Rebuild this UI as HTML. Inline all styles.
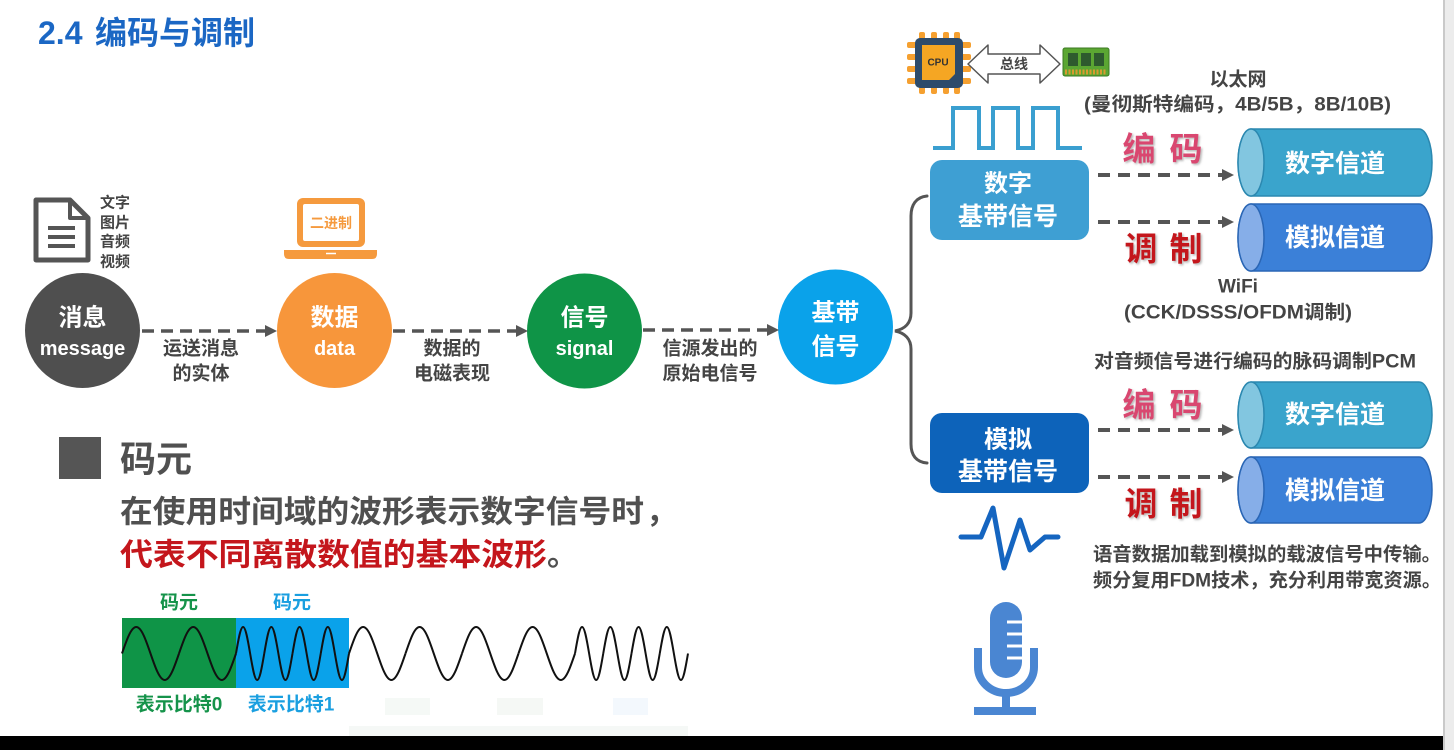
<!DOCTYPE html>
<html><head><meta charset="utf-8"><style>
html,body{margin:0;padding:0;background:#fff;}
body{width:1454px;height:750px;overflow:hidden;}
svg{display:block;}
text{font-family:"Liberation Sans","Noto Sans CJK SC",sans-serif;font-weight:bold;}
</style></head><body>
<svg width="1454" height="750" viewBox="0 0 1454 750" xmlns="http://www.w3.org/2000/svg">
<defs>
<path id="cyc" d="M0,0 C0.0815,-0.5123 0.1595,-1 0.25,-1 C0.3405,-1 0.4185,-0.5123 0.5,0 C0.5815,0.5123 0.6595,1 0.75,1 C0.8405,1 0.9185,0.5123 1,0" fill="none" stroke="#111" stroke-width="2" vector-effect="non-scaling-stroke"/>
<filter id="sh" x="-20%" y="-20%" width="140%" height="140%"><feDropShadow dx="1.5" dy="1.5" stdDeviation="1" flood-color="#888" flood-opacity="0.6"/></filter>
</defs>
<rect x="0" y="0" width="1454" height="750" fill="#fff"/>
<!-- right strip & bottom bar -->
<rect x="1443" y="0" width="11" height="750" fill="#ececec"/>
<rect x="1443" y="0" width="2" height="750" fill="#c9c9c9"/>
<rect x="0" y="736" width="1443" height="14" fill="#000"/>

<!-- title -->
<text x="38" y="33" font-size="32" fill="#1b67c4" dominant-baseline="central">2.4</text>
<text x="95" y="33" font-size="32" fill="#1b67c4" dominant-baseline="central">编码与调制</text>

<!-- document icon -->
<path d="M36,200 L70,200 L88,218 L88,260 L36,260 Z" fill="none" stroke="#555" stroke-width="5" stroke-linejoin="round"/>
<path d="M70,200 L70,218 L88,218" fill="none" stroke="#555" stroke-width="4" stroke-linejoin="round"/>
<line x1="48" y1="228" x2="75" y2="228" stroke="#555" stroke-width="4"/>
<line x1="48" y1="237" x2="75" y2="237" stroke="#555" stroke-width="4"/>
<line x1="48" y1="246" x2="75" y2="246" stroke="#555" stroke-width="4"/>
<g font-size="15" fill="#444" dominant-baseline="central">
<text x="100" y="203">文字</text><text x="100" y="223">图片</text><text x="100" y="242">音频</text><text x="100" y="262">视频</text>
</g>

<!-- laptop -->
<rect x="297" y="198" width="68" height="49" rx="6" fill="#f59a3e"/>
<rect x="303" y="204" width="56" height="37" rx="2" fill="#fff"/>
<text x="331" y="223" font-size="14" fill="#f59a3e" text-anchor="middle" dominant-baseline="central">二进制</text>
<path d="M284,250 L377,250 L377,254 Q377,259 372,259 L289,259 Q284,259 284,254 Z" fill="#f59a3e"/>
<line x1="326" y1="253.5" x2="336" y2="253.5" stroke="#fff" stroke-width="1.5"/>

<!-- circles -->
<circle cx="82.5" cy="330.5" r="57.5" fill="#4f4f4f"/>
<circle cx="334.5" cy="330.5" r="57.5" fill="#f7963b"/>
<circle cx="584.5" cy="331" r="57.5" fill="#0f9447"/>
<circle cx="835.5" cy="327" r="57.5" fill="#0aa2ea"/>
<g fill="#fff" text-anchor="middle" dominant-baseline="central">
<text x="82.5" y="318" font-size="24">消息</text>
<text x="82.5" y="349" font-size="20">message</text>
<text x="334.5" y="318" font-size="24">数据</text>
<text x="334.5" y="349" font-size="20">data</text>
<text x="584.5" y="318" font-size="24">信号</text>
<text x="584.5" y="349" font-size="20">signal</text>
<text x="835.5" y="313" font-size="24">基带</text>
<text x="835.5" y="347" font-size="24">信号</text>
</g>

<!-- left dashed arrows -->
<g stroke="#555" stroke-width="3.5" stroke-dasharray="12 7">
<line x1="142" y1="331" x2="266" y2="331"/>
<line x1="393" y1="331" x2="517" y2="331"/>
<line x1="643" y1="330" x2="768" y2="330"/>
</g>
<g fill="#555">
<polygon points="277,331 265,325 265,337"/>
<polygon points="528,331 516,325 516,337"/>
<polygon points="779,330 767,324 767,336"/>
</g>
<g font-size="19" fill="#444" text-anchor="middle" dominant-baseline="central">
<text x="201" y="349">运送消息</text><text x="201" y="374">的实体</text>
<text x="452" y="349">数据的</text><text x="452" y="374">电磁表现</text>
<text x="710" y="349">信源发出的</text><text x="710" y="374">原始电信号</text>
</g>

<!-- brace -->
<path d="M927,196 C916,197 911,205 911,216 L911,313 C911,323 905,329 895,331 C905,333 911,339 911,349 L911,444 C911,455 916,462 927,463" fill="none" stroke="#555" stroke-width="3" stroke-linecap="round"/>

<!-- CPU icon -->
<g fill="#f5a030">
<rect x="919" y="32" width="6" height="9" rx="2"/><rect x="931" y="32" width="6" height="9" rx="2"/><rect x="943" y="32" width="6" height="9" rx="2"/><rect x="954" y="32" width="6" height="9" rx="2"/>
<rect x="919" y="85" width="6" height="9" rx="2"/><rect x="931" y="85" width="6" height="9" rx="2"/><rect x="943" y="85" width="6" height="9" rx="2"/><rect x="954" y="85" width="6" height="9" rx="2"/>
<rect x="907" y="42" width="10" height="6" rx="2"/><rect x="907" y="54" width="10" height="6" rx="2"/><rect x="907" y="66" width="10" height="6" rx="2"/><rect x="907" y="78" width="10" height="6" rx="2"/>
<rect x="961" y="42" width="10" height="6" rx="2"/><rect x="961" y="54" width="10" height="6" rx="2"/><rect x="961" y="66" width="10" height="6" rx="2"/><rect x="961" y="78" width="10" height="6" rx="2"/>
</g>
<rect x="915" y="38" width="48" height="50" rx="5" fill="#2d4b6b"/>
<path d="M922,45 L955,45 L955,74 L949,80 L922,80 Z" fill="#f5a623"/>
<text x="938" y="63" font-size="10" fill="#333" text-anchor="middle" dominant-baseline="central">CPU</text>
<polygon points="968,64 988,45 988,54 1040,54 1040,45 1060,64 1040,83 1040,74 988,74 988,83" fill="#fff" stroke="#555" stroke-width="1.5" stroke-linejoin="round"/>
<text x="1014" y="64" font-size="14" fill="#444" text-anchor="middle" dominant-baseline="central">总线</text>
<!-- RAM -->
<rect x="1063" y="48" width="46" height="28" rx="2" fill="#5ba632" stroke="#3b7a22" stroke-width="1"/>
<rect x="1068" y="53" width="10" height="13" fill="#2e5a2e"/>
<rect x="1081" y="53" width="10" height="13" fill="#2e5a2e"/>
<rect x="1094" y="53" width="10" height="13" fill="#2e5a2e"/>
<line x1="1065" y1="72" x2="1107" y2="72" stroke="#d89a30" stroke-width="5" stroke-dasharray="2 1.5"/>

<!-- square wave -->
<path d="M933,148 L953,148 L953,108 L979,108 L979,148 L993,148 L993,108 L1018,108 L1018,148 L1033,148 L1033,108 L1058,108 L1058,148 L1082,148" fill="none" stroke="#3a9fd0" stroke-width="4"/>

<!-- boxes -->
<rect x="930" y="160" width="159" height="80" rx="12" fill="#3e9fd3"/>
<rect x="930" y="413" width="159" height="80" rx="12" fill="#0d63ba"/>
<g fill="#fff" text-anchor="middle" dominant-baseline="central">
<text x="1008" y="184" font-size="24">数字</text>
<text x="1008" y="217" font-size="25">基带信号</text>
<text x="1008" y="440" font-size="24">模拟</text>
<text x="1008" y="472" font-size="25">基带信号</text>
</g>

<!-- right dashed arrows -->
<g stroke="#555" stroke-width="4" stroke-dasharray="12 8">
<line x1="1098" y1="175" x2="1224" y2="175"/>
<line x1="1098" y1="222" x2="1224" y2="222"/>
<line x1="1098" y1="430" x2="1224" y2="430"/>
<line x1="1098" y1="477" x2="1224" y2="477"/>
</g>
<g fill="#555">
<polygon points="1234,175 1222,169 1222,181"/>
<polygon points="1234,222 1222,216 1222,228"/>
<polygon points="1234,430 1222,424 1222,436"/>
<polygon points="1234,477 1222,471 1222,483"/>
</g>

<!-- cylinders -->
<g stroke-width="1.5">
<path d="M1251,129 L1419,129 A13,33.5 0 0 1 1419,196 L1251,196 A13,33.5 0 0 1 1251,129 Z" fill="#3aa4cc" stroke="#2b88b0"/>
<ellipse cx="1251" cy="162.5" rx="13" ry="33.5" fill="#82c6e0" stroke="#2b88b0"/>
<path d="M1251,204 L1419,204 A13,33.5 0 0 1 1419,271 L1251,271 A13,33.5 0 0 1 1251,204 Z" fill="#3b80d8" stroke="#2a66b5"/>
<ellipse cx="1251" cy="237.5" rx="13" ry="33.5" fill="#86aee8" stroke="#2a66b5"/>
<path d="M1251,382 L1419,382 A13,33 0 0 1 1419,448 L1251,448 A13,33 0 0 1 1251,382 Z" fill="#3aa4cc" stroke="#2b88b0"/>
<ellipse cx="1251" cy="415" rx="13" ry="33" fill="#82c6e0" stroke="#2b88b0"/>
<path d="M1251,457 L1419,457 A13,33 0 0 1 1419,523 L1251,523 A13,33 0 0 1 1251,457 Z" fill="#3b80d8" stroke="#2a66b5"/>
<ellipse cx="1251" cy="490" rx="13" ry="33" fill="#86aee8" stroke="#2a66b5"/>
</g>
<g fill="#fff" font-size="25" text-anchor="middle" dominant-baseline="central">
<text x="1335" y="164">数字信道</text>
<text x="1335" y="238">模拟信道</text>
<text x="1335" y="415">数字信道</text>
<text x="1335" y="491">模拟信道</text>
</g>

<!-- 编码 / 调制 -->
<g font-size="33" text-anchor="middle" dominant-baseline="central" filter="url(#sh)">
<text x="1139" y="149" fill="#d9476f">编</text><text x="1186" y="149" fill="#d9476f">码</text>
<text x="1141" y="249" fill="#c4161c">调</text><text x="1186" y="249" fill="#c4161c">制</text>
<text x="1139" y="405" fill="#d9476f">编</text><text x="1186" y="405" fill="#d9476f">码</text>
<text x="1141" y="504" fill="#c4161c">调</text><text x="1186" y="504" fill="#c4161c">制</text>
</g>

<!-- right annotations -->
<g font-size="19" fill="#444" dominant-baseline="central">
<text x="1238" y="80" text-anchor="middle">以太网</text>
<text x="1084" y="105" textLength="307" lengthAdjust="spacingAndGlyphs">(曼彻斯特编码，4B/5B，8B/10B)</text>
<text x="1238" y="287" text-anchor="middle">WiFi</text>
<text x="1124" y="313" textLength="228" lengthAdjust="spacingAndGlyphs">(CCK/DSSS/OFDM调制)</text>
<text x="1094" y="362" textLength="322" lengthAdjust="spacingAndGlyphs">对音频信号进行编码的脉码调制PCM</text>
<text x="1093" y="555" textLength="348" lengthAdjust="spacingAndGlyphs">语音数据加载到模拟的载波信号中传输。</text>
<text x="1093" y="581" textLength="348" lengthAdjust="spacingAndGlyphs">频分复用FDM技术，充分利用带宽资源。</text>
</g>

<!-- ECG icon -->
<path d="M961,537 L981,537 L993,508 L1004,568 L1020,520 L1030,550 L1045,537 L1058,537" fill="none" stroke="#1565c0" stroke-width="5" stroke-linejoin="round" stroke-linecap="round"/>

<!-- microphone -->
<rect x="990" y="602" width="32" height="76" rx="16" fill="#4a86d2"/>
<g stroke="#fff" stroke-width="3">
<line x1="1007" y1="622" x2="1024" y2="622"/>
<line x1="1007" y1="634" x2="1024" y2="634"/>
<line x1="1007" y1="646" x2="1024" y2="646"/>
<line x1="1007" y1="658" x2="1024" y2="658"/>
</g>
<path d="M978,648 L978,667 A28,26 0 0 0 1034,667 L1034,648" fill="none" stroke="#4a86d2" stroke-width="8"/>
<rect x="1002" y="690" width="8" height="20" fill="#4a86d2"/>
<rect x="974" y="707" width="62" height="8" fill="#4a86d2"/>

<!-- 码元 section -->
<rect x="59" y="437" width="42" height="42" fill="#555"/>
<text x="120" y="459" font-size="36" fill="#505050" dominant-baseline="central">码元</text>
<text x="120" y="512" font-size="31" fill="#505050" dominant-baseline="central" textLength="524" lengthAdjust="spacingAndGlyphs">在使用时间域的波形表示数字信号时</text>
<text x="646" y="512" font-size="31" fill="#505050" dominant-baseline="central">，</text>
<text x="120" y="555" font-size="31" fill="#c4161c" dominant-baseline="central" textLength="427" lengthAdjust="spacingAndGlyphs">代表不同离散数值的基本波形</text>
<text x="547" y="555" font-size="31" fill="#505050" dominant-baseline="central">。</text>

<text x="179" y="603" font-size="19" fill="#15934a" text-anchor="middle" dominant-baseline="central">码元</text>
<text x="292" y="603" font-size="19" fill="#1a9fe0" text-anchor="middle" dominant-baseline="central">码元</text>
<rect x="122" y="618" width="114" height="70" fill="#0f9447"/>
<rect x="236" y="618" width="113" height="70" fill="#0aa2ea"/>
<!-- waves -->
<g>
<use href="#cyc" transform="translate(122,653.5) scale(57,26.5)"/>
<use href="#cyc" transform="translate(179,653.5) scale(57,26.5)"/>
<use href="#cyc" transform="translate(236,653.5) scale(28.25,26.5)"/>
<use href="#cyc" transform="translate(264.25,653.5) scale(28.25,26.5)"/>
<use href="#cyc" transform="translate(292.5,653.5) scale(28.25,26.5)"/>
<use href="#cyc" transform="translate(320.75,653.5) scale(28.25,26.5)"/>
<use href="#cyc" transform="translate(349,653.5) scale(56.5,26.5)"/>
<use href="#cyc" transform="translate(405.5,653.5) scale(56.5,26.5)"/>
<use href="#cyc" transform="translate(462,653.5) scale(56.5,26.5)"/>
<use href="#cyc" transform="translate(518.5,653.5) scale(56.5,26.5)"/>
<use href="#cyc" transform="translate(575,653.5) scale(28.25,26.5)"/>
<use href="#cyc" transform="translate(603.25,653.5) scale(28.25,26.5)"/>
<use href="#cyc" transform="translate(631.5,653.5) scale(28.25,26.5)"/>
<use href="#cyc" transform="translate(659.75,653.5) scale(28.25,26.5)"/>
</g>
<text x="179" y="705" font-size="19" fill="#15934a" text-anchor="middle" dominant-baseline="central">表示比特0</text>
<text x="291" y="705" font-size="19" fill="#1a9fe0" text-anchor="middle" dominant-baseline="central">表示比特1</text>
<!-- faint residues -->
<rect x="385" y="698" width="45" height="17" fill="#f5f9f6"/>
<rect x="497" y="698" width="46" height="17" fill="#f5f8f5"/>
<rect x="613" y="698" width="35" height="17" fill="#f3f8fd"/>
<rect x="349" y="726" width="339" height="10" fill="#f5f8f6"/>
</svg>
</body></html>
